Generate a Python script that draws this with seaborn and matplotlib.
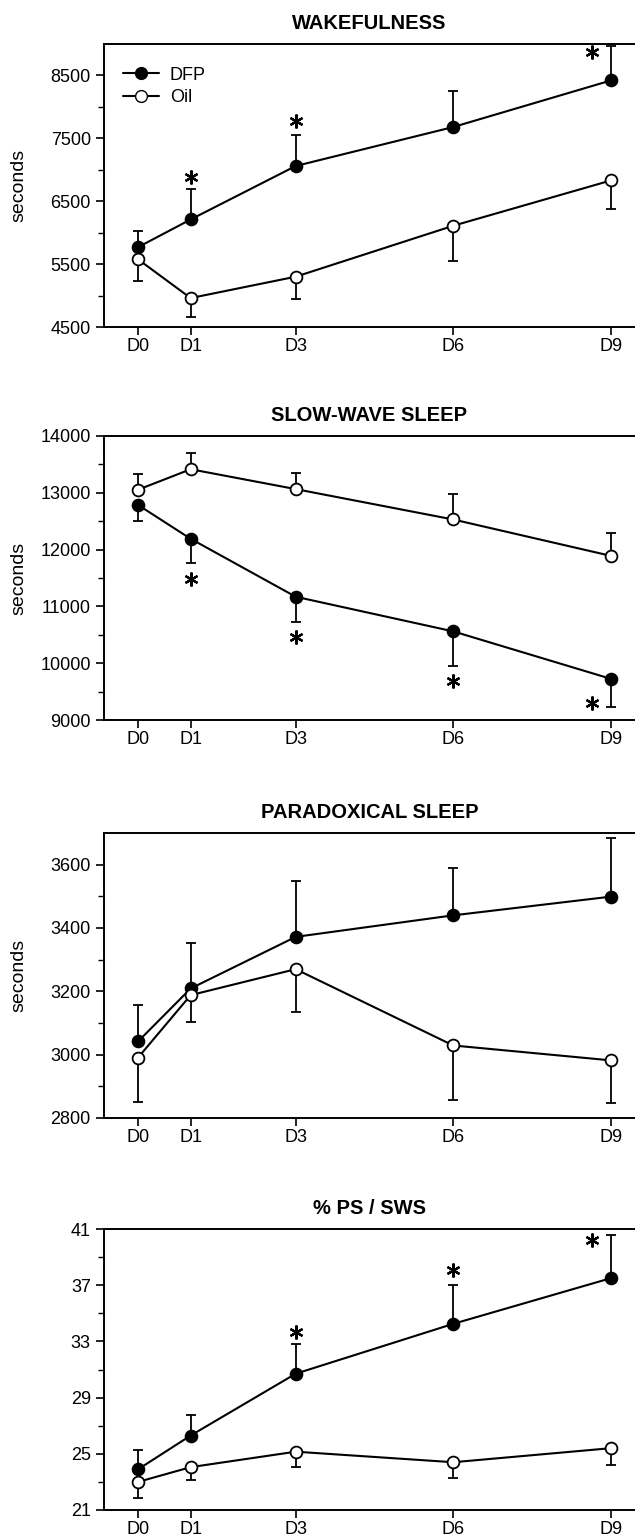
import numpy as np
import pandas as pd
import matplotlib
matplotlib.use("Agg")
import matplotlib.pyplot as plt
from matplotlib.lines import Line2D
import seaborn as sns

# --- data ---
days = [0, 1, 3, 6, 9]
day_labels = ["D0", "D1", "D3", "D6", "D9"]

# Wakefulness (seconds); DFP bars go up, Oil bars go down
wake_dfp = [5770, 6210, 7060, 7680, 8420]
wake_dfp_err = [255, 480, 500, 580, 555]
wake_oil = [5575, 4960, 5300, 6110, 6830]
wake_oil_err = [345, 300, 350, 565, 460]
wake_star_days = [1, 3, 9]
wake_star_y = [6880, 7770, 8870]
wake_yticks = [4500, 5500, 6500, 7500, 8500]

# Slow-wave sleep (seconds); Oil bars go up, DFP bars go down
sws_dfp = [12785, 12190, 11170, 10560, 9725]
sws_dfp_err = [285, 420, 450, 610, 490]
sws_oil = [13055, 13415, 13065, 12530, 11890]
sws_oil_err = [270, 290, 285, 450, 410]
sws_star_days = [1, 3, 6, 9]
sws_star_y = [11490, 10470, 9690, 9300]
sws_yticks = [9000, 10000, 11000, 12000, 13000, 14000]

# Paradoxical sleep (seconds)
ps_dfp = [3042, 3209, 3372, 3440, 3499]
ps_dfp_err = [115, 143, 176, 149, 185]
ps_oil = [2991, 3188, 3270, 3029, 2982]
ps_oil_err = [140, 85, 134, 172, 136]
ps_yticks = [2800, 3000, 3200, 3400, 3600]

# % PS / SWS
ratio_dfp = [23.9, 26.3, 30.7, 34.25, 37.5]
ratio_dfp_err = [1.35, 1.45, 2.1, 2.75, 3.1]
ratio_oil = [23.0, 24.05, 25.15, 24.4, 25.4]
ratio_oil_err = [1.15, 0.9, 1.1, 1.15, 1.2]
ratio_star_days = [3, 6, 9]
ratio_star_y = [33.7, 38.1, 40.2]
ratio_yticks = [21, 25, 29, 33, 37, 41]

sns.set_theme(style="ticks")
plt.rcParams["font.family"] = ["Liberation Sans", "DejaVu Sans"]
plt.rcParams["text.color"] = "black"

fig = plt.figure(figsize=(6.35, 15.38), dpi=100)

W, H = 635, 1538
left_px = 104


def make_ax(top_px, bottom_px):
    return fig.add_axes([left_px / W, 1 - bottom_px / H,
                         (W - left_px) / W, (bottom_px - top_px) / H])


def draw_panel(ax, dfp, dfp_err, dfp_up, oil, oil_err, oil_up):
    # one-sided error bars
    for vals, err, up in [(dfp, dfp_err, dfp_up), (oil, oil_err, oil_up)]:
        e = np.array(err)
        yerr = [np.zeros_like(e), e] if up else [e, np.zeros_like(e)]
        ax.errorbar(days, vals, yerr=yerr, fmt="none", ecolor="black",
                    elinewidth=1.3, capsize=3.5, capthick=1.3, zorder=1)
    df = pd.DataFrame({"day": days, "dfp": dfp, "oil": oil})
    sns.lineplot(data=df, x="day", y="dfp", ax=ax, color="black", marker="o",
                 markersize=8.5, markerfacecolor="black", markeredgecolor="black",
                 markeredgewidth=1.3, linewidth=1.5, zorder=3)
    sns.lineplot(data=df, x="day", y="oil", ax=ax, color="black", marker="o",
                 markersize=8.5, markerfacecolor="white", markeredgecolor="black",
                 markeredgewidth=1.3, linewidth=1.5, zorder=3)


def style_ax(ax, title, ylim, yticks, ylabel=True):
    ax.set_xlim(-0.65, 9.46)
    ax.set_ylim(*ylim)
    ax.set_xticks(days)
    ax.set_xticklabels(day_labels)
    ax.set_yticks(yticks)
    # minor ticks halfway between the labelled ones
    half = (yticks[1] - yticks[0]) / 2
    ax.set_yticks(np.arange(yticks[0] + half, ylim[1] - 1e-9, 2 * half), minor=True)
    ax.tick_params(axis="both", which="major", direction="out", length=6,
                   width=1.2, labelsize=13, color="black", labelcolor="black")
    ax.tick_params(axis="y", which="minor", direction="out", length=4,
                   width=1.0, color="black")
    ax.tick_params(axis="x", pad=2)
    for s in ["left", "bottom", "top"]:
        ax.spines[s].set_visible(True)
        ax.spines[s].set_color("black")
        ax.spines[s].set_linewidth(1.4)
    ax.spines["right"].set_visible(False)
    ax.set_xlabel("")
    ax.set_ylabel("seconds" if ylabel else "", fontsize=14, color="black")
    ax.yaxis.set_label_coords(-0.145, 0.5)
    ax.set_title(title, fontsize=14.5, fontweight="bold", pad=11, color="black")
    ax.set_facecolor("white")


def add_stars(ax, star_days, star_y):
    # the star at D9 sits a little left of the error bar
    sx = [d - 0.35 if d == 9 else d for d in star_days]
    ax.plot(sx, star_y, ls="none", marker=(6, 2, 0), ms=10, mew=1.6,
            color="black", zorder=4)


ax1 = make_ax(44, 327)
draw_panel(ax1, wake_dfp, wake_dfp_err, True, wake_oil, wake_oil_err, False)
add_stars(ax1, wake_star_days, wake_star_y)
style_ax(ax1, "WAKEFULNESS", (4500, 9000), wake_yticks)
handles = [
    Line2D([], [], color="black", lw=1.5, marker="o", ms=8.5, mfc="black", mec="black"),
    Line2D([], [], color="black", lw=1.5, marker="o", ms=8.5, mfc="white", mec="black"),
]
leg = ax1.legend(handles, ["DFP", "Oil"], loc="upper left",
                 bbox_to_anchor=(0.022, 0.945), frameon=False, fontsize=13,
                 handlelength=2.0, handletextpad=0.6, labelspacing=0.3,
                 borderaxespad=0)
for t in leg.get_texts():
    t.set_color("black")

ax2 = make_ax(436, 720)
draw_panel(ax2, sws_dfp, sws_dfp_err, False, sws_oil, sws_oil_err, True)
add_stars(ax2, sws_star_days, sws_star_y)
style_ax(ax2, "SLOW-WAVE SLEEP", (9000, 14000), sws_yticks)

ax3 = make_ax(833, 1118)
draw_panel(ax3, ps_dfp, ps_dfp_err, True, ps_oil, ps_oil_err, False)
style_ax(ax3, "PARADOXICAL SLEEP", (2800, 3700), ps_yticks)

ax4 = make_ax(1229, 1510)
draw_panel(ax4, ratio_dfp, ratio_dfp_err, True, ratio_oil, ratio_oil_err, False)
add_stars(ax4, ratio_star_days, ratio_star_y)
style_ax(ax4, "% PS / SWS", (21, 41), ratio_yticks, ylabel=False)

fig.savefig("out.png", dpi=100, facecolor="white")
